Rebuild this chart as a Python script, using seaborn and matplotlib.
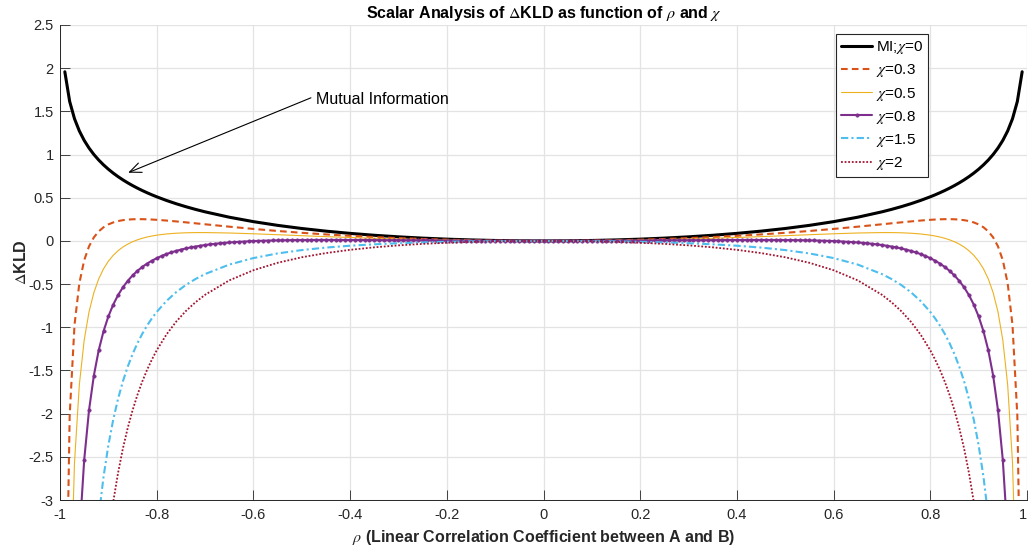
import numpy as np
import pandas as pd
import matplotlib
matplotlib.use("Agg")
import matplotlib.pyplot as plt
import seaborn as sns

# ---------------- data (rho >= 0 half; curves are symmetric in rho) ----------------
rho_coarse = [0.00, 0.05, 0.10, 0.15, 0.20, 0.25, 0.30, 0.35, 0.40, 0.45,
              0.50, 0.55, 0.60, 0.65, 0.70, 0.72, 0.74, 0.76, 0.78, 0.80,
              0.81, 0.82, 0.83, 0.84, 0.85, 0.86, 0.87, 0.88, 0.89, 0.90,
              0.91, 0.92, 0.93, 0.94, 0.95, 0.96, 0.97, 0.98, 0.99]

mi_chi0 = [0.0000, 0.0013, 0.0050, 0.0114, 0.0204, 0.0323, 0.0472, 0.0653, 0.0872, 0.1131,
           0.1438, 0.1801, 0.2231, 0.2745, 0.3367, 0.3653, 0.3966, 0.4309, 0.4688, 0.5108,
           0.5337, 0.5580, 0.5838, 0.6114, 0.6410, 0.6728, 0.7071, 0.7445, 0.7853, 0.8304,
           0.8804, 0.9367, 1.0009, 1.0754, 1.1640, 1.2730, 1.4143, 1.6145, 1.9585]

kld_chi03 = [0.0000, 0.0009, 0.0035, 0.0079, 0.0142, 0.0223, 0.0323, 0.0444, 0.0586, 0.0750,
             0.0938, 0.1151, 0.1388, 0.1648, 0.1926, 0.2039, 0.2150, 0.2258, 0.2357, 0.2442,
             0.2475, 0.2501, 0.2517, 0.2519, 0.2504, 0.2467, 0.2401, 0.2296, 0.2138, 0.1909,
             0.1578, 0.1101, 0.0406, -0.0633, -0.2245, -0.4903, -0.9738, -2.0234, -5.4292]

kld_chi05 = [0.0000, 0.0006, 0.0025, 0.0056, 0.0100, 0.0156, 0.0224, 0.0304, 0.0396, 0.0497,
             0.0605, 0.0717, 0.0825, 0.0916, 0.0965, 0.0962, 0.0940, 0.0890, 0.0804, 0.0664,
             0.0567, 0.0449, 0.0302, 0.0122, -0.0099, -0.0373, -0.0712, -0.1137, -0.1672, -0.2354,
             -0.3239, -0.4409, -0.5996, -0.8224, -1.1501, -1.6658, -2.5659, -4.4487, -10.3543]

kld_chi15 = [0.0000, -0.0006, -0.0026, -0.0059, -0.0108, -0.0177, -0.0270, -0.0394, -0.0557, -0.0773,
             -0.1062, -0.1451, -0.1987, -0.2742, -0.3839, -0.4420, -0.5112, -0.5947, -0.6965, -0.8225,
             -0.8972, -0.9814, -1.0770, -1.1861, -1.3117, -1.4574, -1.6280, -1.8300, -2.0722, -2.3670,
             -2.7326, -3.1961, -3.8006, -4.6179, -5.7784, -7.5434, -10.5261, -16.5749, -34.9799]

kld_chi2 = [0.0000, -0.0013, -0.0051, -0.0116, -0.0213, -0.0344, -0.0517, -0.0743, -0.1033, -0.1408,
            -0.1895, -0.2536, -0.3394, -0.4571, -0.6241, -0.7111, -0.8138, -0.9365, -1.0849, -1.2670,
            -1.3741, -1.4945, -1.6306, -1.7853, -1.9626, -2.1675, -2.4064, -2.6881, -3.0247, -3.4328,
            -3.9369, -4.5737, -5.4011, -6.5157, -8.0925, -10.4821, -14.5062, -22.6381, -47.2927]

rho_fine = [0.00, 0.01, 0.02, 0.03, 0.04, 0.05, 0.06, 0.07, 0.08, 0.09,
            0.10, 0.11, 0.12, 0.13, 0.14, 0.15, 0.16, 0.17, 0.18, 0.19,
            0.20, 0.21, 0.22, 0.23, 0.24, 0.25, 0.26, 0.27, 0.28, 0.29,
            0.30, 0.31, 0.32, 0.33, 0.34, 0.35, 0.36, 0.37, 0.38, 0.39,
            0.40, 0.41, 0.42, 0.43, 0.44, 0.45, 0.46, 0.47, 0.48, 0.49,
            0.50, 0.51, 0.52, 0.53, 0.54, 0.55, 0.56, 0.57, 0.58, 0.59,
            0.60, 0.61, 0.62, 0.63, 0.64, 0.65, 0.66, 0.67, 0.68, 0.69,
            0.70, 0.71, 0.72, 0.73, 0.74, 0.75, 0.76, 0.77, 0.78, 0.79,
            0.80, 0.81, 0.82, 0.83, 0.84, 0.85, 0.86, 0.87, 0.88, 0.89,
            0.90, 0.91, 0.92, 0.93, 0.94, 0.95, 0.96, 0.97, 0.98, 0.99]

kld_chi08 = [0.0000, 0.0000, 0.0000, 0.0001, 0.0002, 0.0002, 0.0004, 0.0005, 0.0006, 0.0008,
             0.0010, 0.0012, 0.0014, 0.0016, 0.0019, 0.0022, 0.0025, 0.0028, 0.0031, 0.0034,
             0.0038, 0.0041, 0.0045, 0.0048, 0.0052, 0.0056, 0.0060, 0.0064, 0.0068, 0.0072,
             0.0076, 0.0080, 0.0084, 0.0088, 0.0091, 0.0095, 0.0098, 0.0102, 0.0105, 0.0107,
             0.0110, 0.0112, 0.0114, 0.0115, 0.0116, 0.0116, 0.0115, 0.0114, 0.0112, 0.0109,
             0.0105, 0.0100, 0.0094, 0.0086, 0.0077, 0.0066, 0.0054, 0.0039, 0.0023, 0.0003,
             -0.0019, -0.0044, -0.0072, -0.0104, -0.0140, -0.0181, -0.0227, -0.0279, -0.0337, -0.0403,
             -0.0476, -0.0559, -0.0652, -0.0757, -0.0876, -0.1009, -0.1161, -0.1332, -0.1527, -0.1749,
             -0.2003, -0.2294, -0.2630, -0.3019, -0.3473, -0.4005, -0.4633, -0.5383, -0.6286, -0.7387,
             -0.8749, -1.0465, -1.2675, -1.5599, -1.9611, -2.5386, -3.4291, -4.9539, -8.0865, -17.7420]

series_labels = [r"MI;$\chi$=0", r"$\chi$=0.3", r"$\chi$=0.5", r"$\chi$=0.8", r"$\chi$=1.5", r"$\chi$=2"]

xtick_values = [-1, -0.8, -0.6, -0.4, -0.2, 0, 0.2, 0.4, 0.6, 0.8, 1]
xtick_labels = ["-1", "-0.8", "-0.6", "-0.4", "-0.2", "0", "0.2", "0.4", "0.6", "0.8", "1"]
ytick_values = [-3, -2.5, -2, -1.5, -1, -0.5, 0, 0.5, 1, 1.5, 2, 2.5]
ytick_labels = ["-3", "-2.5", "-2", "-1.5", "-1", "-0.5", "0", "0.5", "1", "1.5", "2", "2.5"]


def mirror(xh, yh):
    x = [-v for v in reversed(xh[1:])] + list(xh)
    y = list(reversed(yh[1:])) + list(yh)
    return x, y


# ---------------- style ----------------
sns.set_theme(style="whitegrid")
plt.rcParams["font.family"] = ["Liberation Sans", "DejaVu Sans"]
plt.rcParams["mathtext.fontset"] = "stix"
plt.rcParams["axes.unicode_minus"] = False

fig = plt.figure(figsize=(10.28, 5.5), dpi=100)
ax = fig.add_axes([60 / 1028, 50 / 550, 967 / 1028, 475 / 550])
ax.set_facecolor("white")

specs = [
    (rho_coarse, mi_chi0, dict(color="black", lw=2.2, linestyle="-")),
    (rho_coarse, kld_chi03, dict(color="#D95319", lw=1.5, linestyle=(0, (3.2, 2.0)))),
    (rho_coarse, kld_chi05, dict(color="#EDB120", lw=0.8, linestyle="-")),
    (rho_fine, kld_chi08, dict(color="#7E2F8E", lw=1.5, linestyle="-", marker="o",
                               markersize=2.4, markeredgecolor="#7E2F8E",
                               markerfacecolor="#7E2F8E", markeredgewidth=0.5)),
    (rho_coarse, kld_chi15, dict(color="#4DBEEE", lw=1.5, linestyle=(0, (3.5, 1.5, 1.0, 1.5)))),
    (rho_coarse, kld_chi2, dict(color="#A2142F", lw=1.3, linestyle=(0, (1.0, 1.0)))),
]

for (xh, yh, kw), lab in zip(specs, series_labels):
    x, y = mirror(xh, yh)
    df = pd.DataFrame({"rho": x, "dkld": y})
    sns.lineplot(data=df, x="rho", y="dkld", ax=ax, estimator=None, sort=False,
                 label=lab, **kw)

ax.set_xlim(-1, 1)
ax.set_ylim(-3, 2.5)
ax.set_xticks(xtick_values)
ax.set_xticklabels(xtick_labels)
ax.set_yticks(ytick_values)
ax.set_yticklabels(ytick_labels)
ax.get_xticklabels()[-1].set_horizontalalignment("right")

ax.grid(True, color="#E3E3E3", lw=0.9)
ax.set_axisbelow(True)
for side in ["top", "right"]:
    ax.spines[side].set_visible(False)
for side in ["left", "bottom"]:
    ax.spines[side].set_color("#262626")
    ax.spines[side].set_linewidth(0.7)

ax.tick_params(axis="both", which="major", direction="in", length=7, width=0.6,
               colors="#262626", labelsize=10.5, bottom=True, left=True)
ax.tick_params(axis="x", pad=5.5)
ax.tick_params(axis="y", pad=4.5)

ax.set_title(r"Scalar Analysis of $\Delta$KLD as function of $\rho$ and $\chi$",
             fontsize=11.5, fontweight="bold", color="black", pad=5)
ax.set_xlabel(r"$\rho$ (Linear Correlation Coefficient between A and B)",
              fontsize=11.5, fontweight="bold", color="#262626")
ax.set_ylabel(r"$\Delta$KLD", fontsize=11.5, fontweight="bold", color="#262626")
ax.xaxis.set_label_coords(0.5, -0.058)
ax.yaxis.set_label_coords(-0.032, 0.5)

# annotation
ax.annotate("", xy=(-0.859, 0.79), xytext=(-0.481, 1.657),
            arrowprops=dict(arrowstyle="->,head_length=0.7,head_width=0.3",
                            color="black", lw=0.8, shrinkA=0, shrinkB=0))
ax.text(-0.4705, 1.634, "Mutual Information", fontsize=11.5, va="center", ha="left",
        color="black")

leg = ax.legend(loc="upper left", bbox_to_anchor=(836 / 1028, 1 - 34 / 550),
                bbox_transform=fig.transFigure, borderaxespad=0, frameon=True,
                fancybox=False, framealpha=1, fontsize=11, handlelength=2.0,
                handletextpad=0.25, labelspacing=0.4, borderpad=0.35)
leg.get_frame().set_edgecolor("#262626")
leg.get_frame().set_linewidth(0.8)
for t in leg.get_texts():
    t.set_color("black")

fig.savefig("out.png", dpi=100)
